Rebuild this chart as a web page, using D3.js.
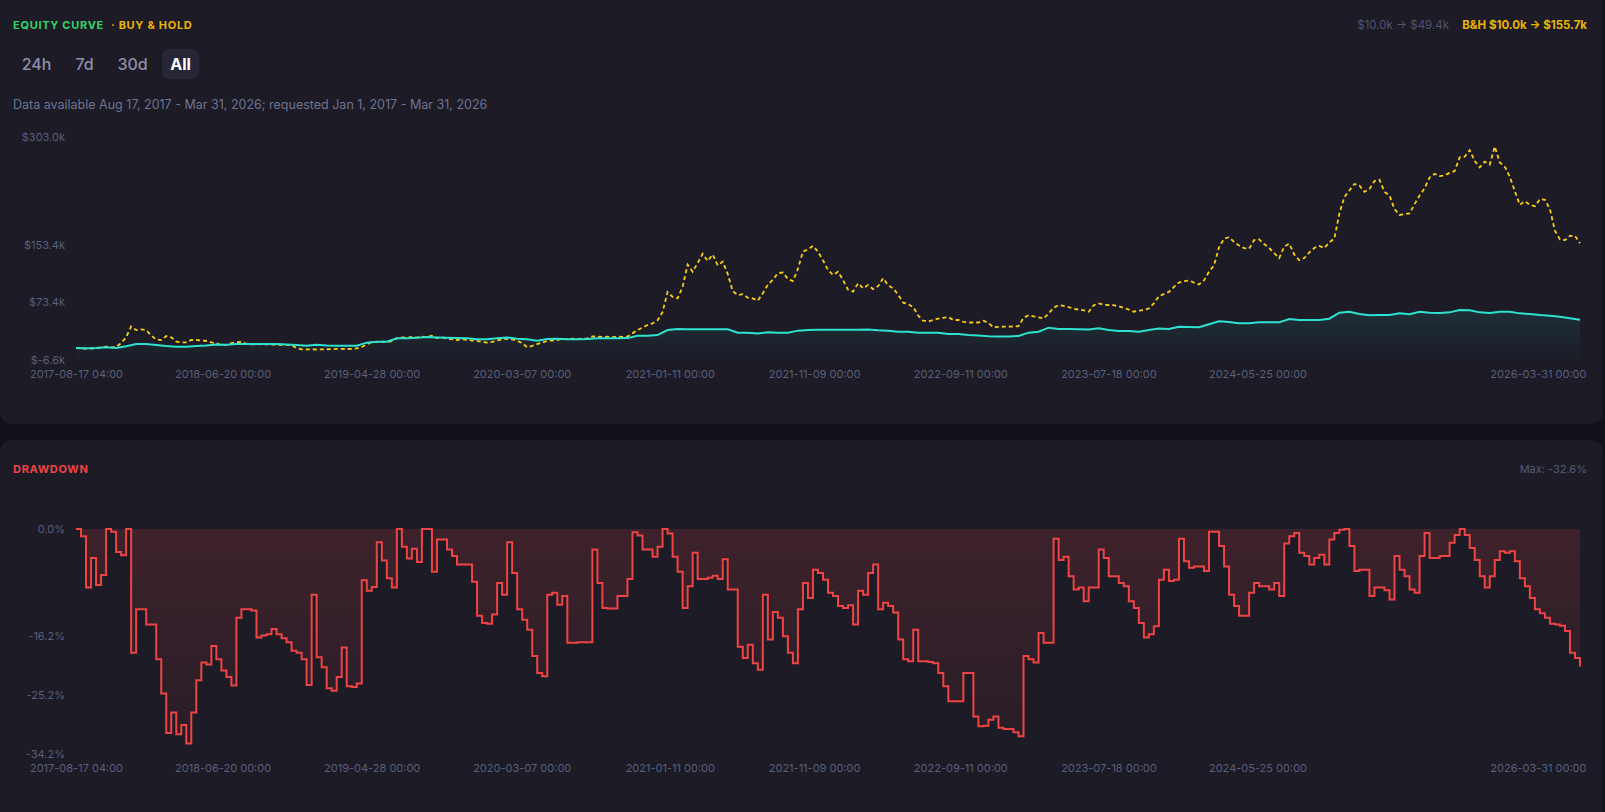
<!DOCTYPE html>
<html><head><meta charset="utf-8">
<script src="https://cdn.jsdelivr.net/npm/d3@7"></script>
<style>
html,body{margin:0;padding:0;background:#121119;overflow:hidden;}
svg{display:block;font-family:Inter,"Noto Sans",sans-serif;}
</style></head><body>
<svg id="c" width="1605" height="812"></svg>
<script>
// ---- data (values in $k and %) ----
const startTime = "2017-08-17T04:00:00Z";
const endTime = "2026-03-31T00:00:00Z";

const strategyEquity = [
 10, 9.7, 10.1, 11, 10.1, 12.4, 15.6, 15.6, 14.2, 12.8,
 11.9, 11.9, 12.8, 13.7, 15.1, 14.6, 15.6, 15.6, 15.6, 15.6,
 15.6, 15.1, 14.2, 13.3, 14.6, 13.7, 13.3, 13.3, 13.3, 17.5,
 18.8, 18.8, 23.5, 23.5, 24.4, 25.5, 24.8, 24.3, 24.1, 23.5,
 22.4, 22.2, 23.5, 24.8, 22.8, 22.2, 20, 22.5, 23, 22.2,
 22.2, 22.5, 23.5, 23.5, 23.5, 23.8, 27.2, 27.2, 28.1, 35.1,
 36.5, 36, 36.3, 36.3, 36, 36, 31.4, 31.4, 30.4, 31.8,
 31.4, 31.4, 34.2, 35.1, 35.5, 35.5, 35.3, 35.3, 35.6, 35.8,
 34.6, 34.2, 32.8, 32.8, 31.4, 31.4, 31.4, 29.5, 29.5, 28.1,
 27.5, 26.5, 26.2, 26, 26.8, 31.4, 32.8, 38.3, 36.5, 36.5,
 36, 35.8, 37.4, 35.1, 33.7, 33.7, 32.8, 35.1, 37, 36.5,
 39.7, 39.2, 38.8, 43, 47.2, 46.2, 44.4, 44.4, 45.7, 45.7,
 45.7, 50.4, 49, 49, 49, 50.8, 59.2, 60.5, 57.3, 55.5,
 55.9, 55.9, 58.2, 56.9, 60.5, 59.2, 58.7, 59.6, 62.9, 62.4,
 59.6, 58.7, 60.5, 60.5, 58.2, 57.3, 55.9, 55, 53.6, 51.3,
 49.4
];

const buyHoldEquity = [
 10, 9.3, 9.2, 9.4, 9.5, 11, 12, 11, 11.5, 17,
 25, 40, 35, 36, 35, 27.5, 22, 21, 26.7, 25,
 19, 18, 18, 21.2, 21.2, 20.5, 19.8, 18, 16.6, 14,
 14.5, 17, 18, 18.5, 16, 15.1, 15.1, 15.5, 15.1, 14.8,
 14.6, 14.6, 14.3, 13.8, 10, 8.3, 8.3, 8.1, 8, 8.2,
 8.3, 8.5, 8.8, 8.8, 8.6, 8.9, 9.5, 11.5, 15, 18.8,
 18.2, 18.8, 18.5, 19.5, 23.5, 24.9, 24, 25.5, 24.5, 26,
 25, 27, 24, 25, 23, 22.5, 21, 22, 21.5, 20.5,
 20, 18.5, 17.5, 18.5, 20.5, 22, 23, 22, 20, 17,
 11, 13, 15.5, 17.5, 20, 20.5, 21, 23, 22.5, 23,
 22.5, 23, 23.5, 26.3, 25.8, 25.5, 25.8, 25.3, 25.8, 25.5,
 26, 30.4, 35, 38.5, 42, 44.2, 48.5, 60, 88, 81,
 79.1, 95, 126, 116, 128, 141, 131, 140, 125, 130,
 113, 89, 83.7, 85, 80, 79, 76, 86, 98, 105,
 114, 115, 106, 103, 120, 144, 147, 152, 144, 132,
 118.5, 111.5, 116, 104.5, 91, 88.4, 100, 93, 97.6, 92,
 96, 107, 97, 93, 84, 73, 71, 67, 55, 48,
 47, 49, 51, 52, 53, 49, 49, 46.5, 45.5, 45.5,
 45.5, 48, 45, 38.8, 39.5, 39.7, 39.7, 40, 40.6, 52,
 55.5, 54, 52.7, 51, 58, 66, 69.8, 68.5, 67, 64.5,
 63.5, 62.5, 60.5, 69.5, 72, 70, 69.8, 69.5, 68, 66,
 63.5, 60.5, 62, 62.9, 65, 72, 82, 85, 88, 95,
 101, 103, 104, 101, 98.5, 104, 116, 125, 150, 162,
 164, 157.5, 152.5, 149, 148, 160, 161, 154.5, 149, 142,
 135, 151, 155, 140, 132, 135, 143, 149, 152, 149,
 157, 162, 197, 220, 229, 238, 236, 227, 231, 242,
 244, 227, 222, 203, 195, 196, 197, 210, 222, 232,
 247, 252, 249, 250, 253.5, 256, 275, 276, 285, 270,
 261, 269, 265, 290, 268, 262, 248, 228, 209, 214,
 209, 207, 217, 216, 203, 173, 161, 160, 166, 166,
 155.7
];

const drawdownPct = [
 0, -1.1, -8.9, -4.4, -8.5, -7, 0, -0.4, -3.5, -4,
 0, -18.8, -12.2, -12.2, -14.5, -14.5, -19.8, -25, -31, -27.9,
 -31.2, -29.8, -32.6, -27.9, -23, -20.3, -20.6, -17.8, -19.8, -21.5,
 -22.5, -23.8, -13.5, -12.2, -12.2, -12.4, -16.5, -16.2, -16, -15.2,
 -16, -16.6, -17.2, -18.5, -18.8, -19.8, -23.7, -10, -19.5, -21,
 -24.2, -24.6, -22.5, -18, -23.9, -24, -23.5, -7.8, -9.4, -8.8,
 -2, -4.8, -7.5, -8.9, 0, -2.7, -4.5, -3, -5, 0,
 0, -6.5, -1.6, -1.6, -3.1, -4.1, -5.4, -5.4, -5.4, -8,
 -13.2, -14.3, -14.4, -13, -8.2, -10, -2, -6.7, -12.2, -13.8,
 -15.3, -19.3, -21.9, -22.4, -10, -9.7, -11.5, -10.2, -17.3, -17.3,
 -17.2, -17.2, -17.2, -3.1, -8.2, -12, -12.1, -12.1, -10.2, -10.2,
 -7.6, -0.5, -1, -3.1, -3.1, -4.2, -2.7, 0, -0.7, -4.2,
 -6.5, -12, -8.7, -3.6, -7.6, -7.6, -7.4, -7.1, -7.6, -4.6,
 -9.2, -9.2, -17.9, -19.6, -17.6, -20.4, -21.4, -10, -16.8, -12.6,
 -13.5, -16.3, -18.8, -20.4, -12.2, -8.2, -10.5, -6.2, -6.7, -7.7,
 -9.7, -10.2, -11.7, -12, -11.6, -14.5, -9.4, -10, -6.7, -5.4,
 -12.2, -11.2, -11.7, -12.7, -16.8, -19.8, -20.1, -15.3, -20.1, -20.1,
 -20.2, -20.4, -21.9, -23.9, -26.2, -26.2, -26.2, -21.9, -21.9, -28.5,
 -30, -29.9, -29, -28.5, -30.2, -30.4, -30.4, -30.9, -31.5, -19.3,
 -19.8, -20.3, -15.8, -17.3, -17.3, -1.5, -4.7, -4.2, -7.2, -9.2,
 -8.9, -11, -8.9, -8.9, -3.1, -4.4, -7.2, -7.2, -8.2, -8.7,
 -11, -12, -14.3, -16.5, -16, -14.8, -7.7, -6.2, -7.9, -7.7,
 -1.5, -4.9, -5.9, -5.7, -5.7, -6.4, -0.4, -0.4, -2.6, -5.7,
 -10, -11.7, -13.2, -13.2, -9.7, -8.2, -8.7, -8.7, -9.2, -8.2,
 -10.2, -2.2, -1.1, -0.6, -3.6, -4.1, -5.4, -4.4, -3.9, -5.4,
 -1.6, -0.6, -0.1, 0, -2.6, -6.4, -6.2, -6.2, -10.2, -8.9,
 -8.9, -9.3, -10.7, -4.1, -6.2, -7.2, -9.2, -9.7, -4.1, -0.6,
 -4.4, -4.4, -4.1, -4.1, -2.1, -0.9, 0, -0.9, -2.9, -4.7,
 -7.2, -8.9, -7.2, -4.7, -3.4, -3.6, -3.4, -4.9, -7.5, -8.7,
 -10.5, -12.2, -12.8, -13.5, -14.4, -14.5, -14.7, -15.5, -18.8, -19.6,
 -20.9
];

const equityTicks = [-6.6, 73.4, 153.4, 303.0];
const drawdownTicks = [0, -16.2, -25.2, -34.2];
const dateTicks = ["2017-08-17T04:00:00Z","2018-06-20T00:00:00Z","2019-04-28T00:00:00Z",
  "2020-03-07T00:00:00Z","2021-01-11T00:00:00Z","2021-11-09T00:00:00Z","2022-09-11T00:00:00Z",
  "2023-07-18T00:00:00Z","2024-05-25T00:00:00Z","2026-03-31T00:00:00Z"];
const rangeButtons = ["24h","7d","30d","All"];
const activeRange = "All";

// ---- helpers ----
const t0 = +d3.isoParse(startTime), t1 = +d3.isoParse(endTime);
const withDates = arr => arr.map((v,i)=>({date:new Date(t0+(t1-t0)*i/(arr.length-1)), v}));
const eqData = withDates(strategyEquity);
const bhData = withDates(buyHoldEquity);
const ddData = withDates(drawdownPct);

const svg = d3.select("#c");
const PANEL = "#1c1b26", AX = "#5a5f7a";

// panels
svg.append("rect").attr("x",0).attr("y",-20).attr("width",1603).attr("height",444).attr("rx",12).attr("fill",PANEL);
svg.append("rect").attr("x",0).attr("y",440).attr("width",1603).attr("height",420).attr("rx",12).attr("fill",PANEL);

const defs = svg.append("defs");
const g1 = defs.append("linearGradient").attr("id","tealFill").attr("gradientUnits","userSpaceOnUse")
  .attr("x1",0).attr("x2",0).attr("y1",300).attr("y2",360);
g1.append("stop").attr("offset",0).attr("stop-color","#2de2d0").attr("stop-opacity",0.12);
g1.append("stop").attr("offset",1).attr("stop-color","#2de2d0").attr("stop-opacity",0.01);
const g2 = defs.append("linearGradient").attr("id","redFill").attr("gradientUnits","userSpaceOnUse")
  .attr("x1",0).attr("x2",0).attr("y1",529).attr("y2",754);
g2.append("stop").attr("offset",0).attr("stop-color","#ef4444").attr("stop-opacity",0.16);
g2.append("stop").attr("offset",1).attr("stop-color","#ef4444").attr("stop-opacity",0.05);

// ---- header ----
const hdr = svg.append("text").attr("x",13).attr("y",25).attr("dominant-baseline","central")
  .attr("font-size",11).attr("font-weight",700).attr("letter-spacing","0.7px");
hdr.append("tspan").attr("fill","#34d36a").text("EQUITY CURVE");
hdr.append("tspan").attr("fill","#eab308").attr("dx",7).text("· BUY & HOLD");

svg.append("text").attr("x",1449).attr("y",25).attr("text-anchor","end").attr("dominant-baseline","central")
  .attr("font-size",11.5).attr("fill","#4f5470").text("$10.0k → $49.4k");
svg.append("text").attr("x",1587).attr("y",25).attr("text-anchor","end").attr("dominant-baseline","central")
  .attr("font-size",11.5).attr("font-weight",700).attr("fill","#eab308").text("B&H $10.0k → $155.7k");

// range buttons
const btnX = [13, 66, 109, 162], btnW = [47, 37, 47, 37];
rangeButtons.forEach((b,i)=>{
  if (b===activeRange) svg.append("rect").attr("x",btnX[i]).attr("y",49).attr("width",btnW[i]).attr("height",30).attr("rx",7).attr("fill","#272636");
  svg.append("text").attr("x",btnX[i]+btnW[i]/2).attr("y",64).attr("text-anchor","middle").attr("dominant-baseline","central")
    .attr("font-size",16).attr("font-weight",b===activeRange?700:500).attr("fill",b===activeRange?"#ffffff":"#8c90aa").text(b);
});

svg.append("text").attr("x",13).attr("y",104).attr("dominant-baseline","central").attr("font-size",12.5).attr("fill","#6e7391")
  .text("Data available Aug 17, 2017 - Mar 31, 2026; requested Jan 1, 2017 - Mar 31, 2026");

// ---- scales ----
const x = d3.scaleUtc().domain([t0,t1]).range([76,1580]);
const yEq = d3.scaleLinear().domain([-6.6,303]).range([360,137.2]);
const yDd = d3.scaleLinear().domain([-34.2,0]).range([754,529]);
const tickDates = dateTicks.map(d=>d3.isoParse(d));
const fmtDate = d3.utcFormat("%Y-%m-%d %H:%M");

function styleAxis(g){
  g.select(".domain").remove();
  g.selectAll(".tick line").remove();
  g.selectAll("text").attr("fill",AX).attr("font-size",11).attr("font-family","Inter,'Noto Sans',sans-serif");
}
function xAxis(yPos){
  const g = svg.append("g").attr("transform",`translate(0,${yPos})`)
    .call(d3.axisBottom(x).tickValues(tickDates).tickFormat(fmtDate).tickSize(0).tickPadding(0));
  styleAxis(g);
  g.selectAll("text").attr("dy",null).attr("dominant-baseline","central");
  g.selectAll(".tick").filter((d,i,n)=>i===n.length-1).select("text").attr("text-anchor","end").attr("dx",6);
}

// ---- equity chart ----
svg.append("path").datum(eqData).attr("fill","url(#tealFill)")
  .attr("d",d3.area().x(d=>x(d.date)).y0(360).y1(d=>yEq(d.v)));
svg.append("path").datum(bhData).attr("fill","none").attr("stroke","#facc15").attr("stroke-width",1.8)
  .attr("stroke-dasharray","4 3").attr("d",d3.line().x(d=>x(d.date)).y(d=>yEq(d.v)));
svg.append("path").datum(eqData).attr("fill","none").attr("stroke","#2de2d0").attr("stroke-width",2)
  .attr("d",d3.line().x(d=>x(d.date)).y(d=>yEq(d.v)));

const yA = svg.append("g").attr("transform","translate(65,0)")
  .call(d3.axisLeft(yEq).tickValues(equityTicks).tickFormat(v=>"$"+v.toFixed(1)+"k").tickSize(0).tickPadding(0));
styleAxis(yA);
xAxis(374);

// ---- drawdown chart ----
svg.append("text").attr("x",13).attr("y",469).attr("dominant-baseline","central").attr("font-size",11)
  .attr("font-weight",700).attr("letter-spacing","0.7px").attr("fill","#ef4444").text("DRAWDOWN");
svg.append("text").attr("x",1587).attr("y",469).attr("text-anchor","end").attr("dominant-baseline","central")
  .attr("font-size",11).attr("fill","#555a74").text("Max: " + d3.min(drawdownPct).toFixed(1) + "%");

svg.append("path").datum(ddData).attr("fill","url(#redFill)")
  .attr("d",d3.area().curve(d3.curveStepAfter).x(d=>x(d.date)).y0(yDd(0)).y1(d=>yDd(d.v)));
svg.append("path").datum(ddData).attr("fill","none").attr("stroke","#ef4444").attr("stroke-width",2)
  .attr("d",d3.line().curve(d3.curveStepAfter).x(d=>x(d.date)).y(d=>yDd(d.v)));

const yB = svg.append("g").attr("transform","translate(65,0)")
  .call(d3.axisLeft(yDd).tickValues(drawdownTicks).tickFormat(v=>v.toFixed(1)+"%").tickSize(0).tickPadding(0));
styleAxis(yB);
xAxis(768);
</script>
</body></html>
